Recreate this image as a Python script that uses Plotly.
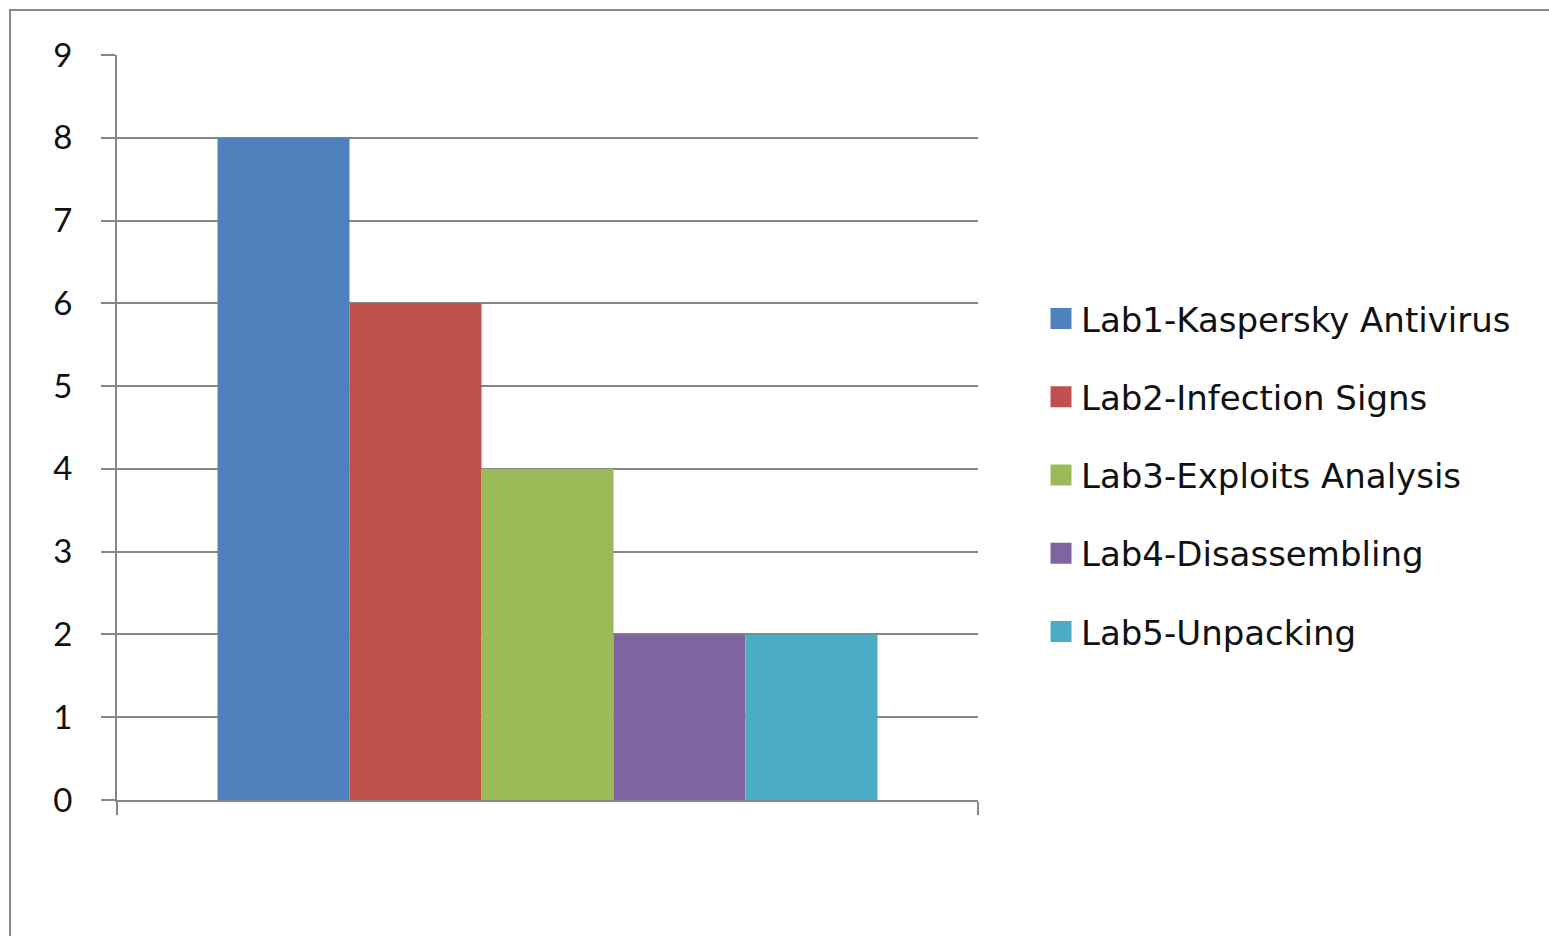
import plotly.graph_objects as go

categories = ["Labs"]
series_names = [
    "Lab1-Kaspersky Antivirus",
    "Lab2-Infection Signs",
    "Lab3-Exploits Analysis",
    "Lab4-Disassembling",
    "Lab5-Unpacking",
]
series_values = [8, 6, 4, 2, 2]
series_colors = ["#4F81BD", "#C0504D", "#9BBB59", "#8064A2", "#4BACC6"]
y_ticks = [0, 1, 2, 3, 4, 5, 6, 7, 8, 9]

W, H = 1549, 936
L, R, T, B = 117, 978, 55, 800
GRID = "#868686"

fig = go.Figure()
for name, val, col in zip(series_names, series_values, series_colors):
    fig.add_trace(go.Bar(x=categories, y=[val], name=name, marker=dict(color=col, line=dict(width=0)),
                         showlegend=False))
for i, (name, col) in enumerate(zip(series_names, series_colors)):
    fig.add_trace(go.Scatter(x=categories, y=[None], name=name, mode="markers",
                             marker=dict(symbol="square", size=16, color=col, line=dict(color=col, width=5)),
                             legendgroup="g%d" % i, showlegend=True))

pw = R - L
ph = B - T
fig.update_layout(
    width=W, height=H,
    margin=dict(l=L, r=W - R, t=T, b=H - B, pad=0),
    paper_bgcolor="white", plot_bgcolor="white",
    barmode="group", bargap=1 - 660 / pw, bargroupgap=0,
    font=dict(family="Lato, Open Sans, sans-serif", color="#000000"),
    showlegend=True,
    legend=dict(
        x=(1041 - L) / pw, xanchor="left",
        y=(B - 290) / ph, yanchor="top",
        font=dict(size=34, color="#111111", family="DejaVu Sans"),
        tracegroupgap=31,
        bgcolor="rgba(0,0,0,0)",
        traceorder="grouped",
    ),
    xaxis=dict(
        type="category", showticklabels=False, showgrid=False, zeroline=False,
        showline=True, linecolor=GRID, linewidth=2,
        ticks="outside", tickson="boundaries", ticklen=13, tickwidth=2, tickcolor=GRID,
    ),
    yaxis=dict(
        range=[0, 9], tickvals=y_ticks, ticktext=[str(v) for v in y_ticks],
        showgrid=True, gridcolor=GRID, gridwidth=2, zeroline=False,
        showline=True, linecolor=GRID, linewidth=2,
        ticks="outside", ticklen=14, tickwidth=2, tickcolor=GRID,
        tickfont=dict(size=33, color="#111111"),
        ticklabelstandoff=22,
    ),
    shapes=[dict(
        type="rect", xref="paper", yref="paper",
        x0=(10 - L) / pw, x1=(W + 20 - L) / pw,
        y0=(B - (H + 20)) / ph, y1=(B - 10) / ph,
        line=dict(color="#8a8a8a", width=2), fillcolor="rgba(0,0,0,0)", layer="below",
    )],
)

fig.write_html("out.html")
